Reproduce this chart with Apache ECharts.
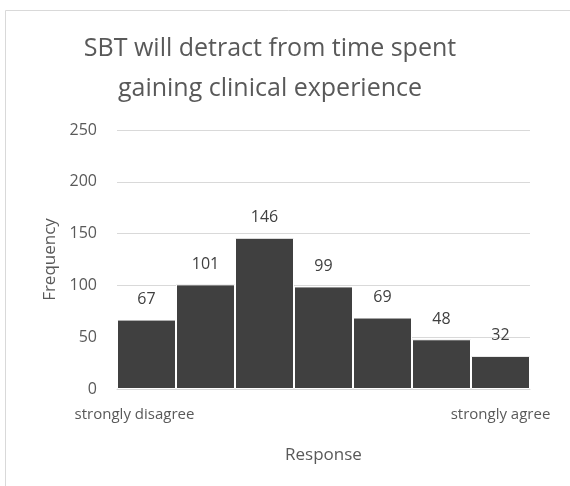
<!DOCTYPE html>
<html>
<head>
<meta charset="utf-8">
<script src="https://cdn.jsdelivr.net/npm/echarts@6/dist/echarts.min.js"></script>
<style>
  html, body { margin: 0; padding: 0; background: #fff; }
  #main { width: 570px; height: 486px; }
</style>
</head>
<body>
<div id="main"></div>
<script>
// data
const categories = ['strongly disagree', '2', '3', '4', '5', '6', 'strongly agree']
const frequency = [67, 101, 146, 99, 69, 48, 32]
const yTicks = [0, 50, 100, 150, 200, 250]

const chart = echarts.init(document.getElementById('main'))

const font = 'Open Sans'
const option = {
    backgroundColor: '#fff',
    textStyle: { fontFamily: font },
    title: {
        text: 'SBT will detract from time spent\ngaining clinical experience',
        left: 265,
        textAlign: 'center',
        top: 24,
        textStyle: {
            fontFamily: font,
            fontSize: 25,
            fontWeight: 'normal',
            color: '#595959',
            lineHeight: 40
        }
    },
    graphic: [{
        type: 'rect',
        shape: { x: 5.5, y: 10.5, width: 600, height: 500 },
        style: { fill: 'none', stroke: '#d9d9d9', lineWidth: 1 },
        silent: true
    }],
    grid: {
        left: 117,
        right: 40,
        top: 130,
        bottom: 97
    },
    xAxis: {
        type: 'category',
        data: categories,
        name: 'Response',
        nameLocation: 'middle',
        nameGap: 58,
        nameTextStyle: { fontSize: 17, color: '#595959' },
        axisLine: { show: true, lineStyle: { color: '#d9d9d9' } },
        axisTick: { show: false },
        axisLabel: {
            interval: 0,
            fontSize: 15,
            color: '#595959',
            margin: 18,
            formatter: function (v, i) {
                if (i === 0) return '{first|' + v + '}'
                return i === categories.length - 1 ? v : ''
            },
            rich: {
                first: { fontSize: 15, color: '#595959', padding: [0, 24, 0, 0] }
            }
        }
    },
    yAxis: {
        type: 'value',
        min: yTicks[0],
        max: yTicks[yTicks.length - 1],
        interval: 50,
        name: 'Frequency',
        nameLocation: 'middle',
        nameGap: 57,
        nameTextStyle: { fontSize: 17, color: '#595959' },
        axisLine: { show: false },
        axisTick: { show: false },
        axisLabel: { fontSize: 16, color: '#595959', margin: 20 },
        splitLine: { lineStyle: { color: '#d9d9d9' } }
    },
    series: [{
        type: 'bar',
        data: frequency,
        barCategoryGap: '0%',
        itemStyle: {
            color: '#404040',
            borderColor: '#ffffff',
            borderWidth: 1
        },
        label: {
            show: true,
            position: 'top',
            distance: 12,
            fontSize: 16,
            color: '#404040'
        }
    }]
}
chart.setOption(option)
</script>
</body>
</html>
